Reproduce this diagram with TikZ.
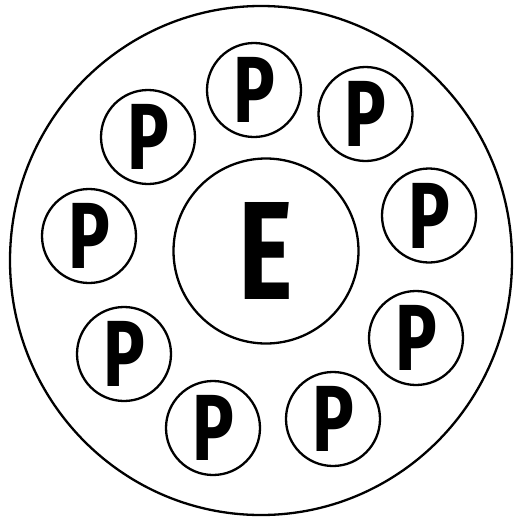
\documentclass[tikz,border=0pt]{standalone}
\usepackage{fontspec}
\usepackage{graphicx}
\setmainfont{Fira Sans}
\tikzset{
  pcirc/.style={circle, draw, line width=2.3pt, minimum size=94pt, inner sep=0pt, font=\fontsize{94}{94}\selectfont\bfseries},
  ecirc/.style={circle, draw, line width=2.3pt, minimum size=185pt, inner sep=0pt, font=\fontsize{140}{140}\selectfont\bfseries}
}
\newcommand{\nrw}[1]{\scalebox{0.74}[1]{#1}}
\begin{document}
\begin{tikzpicture}[x=1pt,y=-1pt]
\useasboundingbox (0,0) rectangle (514,517);
\draw[line width=2.3pt] (261,260.5) ellipse [x radius=251, y radius=254.5];
\node[ecirc] (e) at (266,251) {\nrw{E}};
\node[pcirc] (p1) at (254,90) {\nrw{P}};
\node[pcirc] (p2) at (365.5,114) {\nrw{P}};
\node[pcirc] (p3) at (429,215.5) {\nrw{P}};
\node[pcirc] (p4) at (416,338) {\nrw{P}};
\node[pcirc] (p5) at (333,419) {\nrw{P}};
\node[pcirc] (p6) at (213,428) {\nrw{P}};
\node[pcirc] (p7) at (124,354) {\nrw{P}};
\node[pcirc] (p8) at (89,236) {\nrw{P}};
\node[pcirc] (p9) at (148,137) {\nrw{P}};
\end{tikzpicture}
\end{document}
